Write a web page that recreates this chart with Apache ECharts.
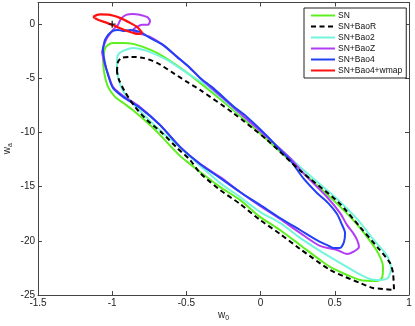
<!DOCTYPE html>
<html><head><meta charset="utf-8">
<script src="https://cdn.jsdelivr.net/npm/echarts@6/dist/echarts.min.js"></script>
<style>html,body{margin:0;padding:0;background:#fff}#c{width:415px;height:326px}</style>
</head><body><div id="c"></div>
<script>
const seriesNames = ['SN','SN+BaoR','SN+Bao2','SN+BaoZ','SN+Bao4','SN+Bao4+wmap'];
const xTickValues = [-1.5,-1,-0.5,0,0.5,1];
const yTickValues = [-25,-20,-15,-10,-5,0];
const fiducialPoint = [[-1, 0]];

const snContour = [[-1.062,-3.11],[-1.049,-2.28],[-1.028,-1.91],[-0.995,-1.73],[-0.927,-1.73],[-0.860,-1.82],[-0.792,-2.10],[-0.698,-2.65],[-0.590,-3.57],[-0.476,-4.68],[-0.408,-5.42],[-0.186,-7.91],[0.043,-10.68],[0.266,-13.45],[0.488,-16.22],[0.623,-18.07],[0.717,-19.64],[0.791,-21.11],[0.825,-22.41],[0.818,-23.42],[0.784,-23.70],[0.670,-23.61],[0.582,-23.15],[0.468,-22.41],[0.400,-21.76],[0.266,-20.38],[0.131,-19.00],[-0.004,-17.79],[-0.139,-16.22],[-0.274,-15.02],[-0.408,-13.64],[-0.476,-12.90],[-0.543,-12.16],[-0.678,-10.22],[-0.745,-9.30],[-0.846,-8.10],[-0.927,-7.26],[-0.981,-6.71],[-1.028,-5.79],[-1.055,-4.40],[-1.062,-3.11]];

const snBaoRContour = [[-0.968,-4.40],[-0.961,-3.48],[-0.934,-3.11],[-0.880,-3.02],[-0.792,-3.11],[-0.698,-3.57],[-0.590,-4.50],[-0.496,-5.33],[-0.408,-6.07],[-0.186,-8.19],[0.043,-10.68],[0.266,-13.50],[0.522,-16.41],[0.670,-18.72],[0.791,-20.65],[0.872,-22.04],[0.892,-22.96],[0.899,-24.53],[0.825,-24.44],[0.757,-24.35],[0.670,-23.89],[0.569,-23.33],[0.468,-22.69],[0.266,-20.75],[0.131,-19.36],[-0.004,-18.07],[-0.139,-16.59],[-0.274,-15.30],[-0.408,-13.73],[-0.476,-12.53],[-0.563,-11.42],[-0.664,-10.04],[-0.766,-8.84],[-0.846,-7.64],[-0.914,-6.25],[-0.954,-5.14],[-0.968,-4.40]];

const snBao2Contour = [[-0.968,-3.48],[-0.961,-2.83],[-0.927,-2.47],[-0.860,-2.19],[-0.766,-2.47],[-0.631,-3.30],[-0.496,-4.50],[-0.361,-5.70],[-0.186,-7.73],[0.043,-10.41],[0.266,-13.18],[0.515,-16.13],[0.650,-17.98],[0.757,-19.82],[0.852,-21.39],[0.879,-22.50],[0.858,-23.42],[0.805,-23.61],[0.737,-23.52],[0.650,-22.96],[0.535,-22.04],[0.400,-20.93],[0.266,-19.73],[0.131,-18.35],[-0.004,-17.33],[-0.139,-15.95],[-0.274,-14.66],[-0.375,-13.45],[-0.476,-12.25],[-0.577,-10.96],[-0.658,-10.04],[-0.766,-8.65],[-0.860,-7.36],[-0.927,-6.16],[-0.961,-4.87],[-0.968,-3.48]];

const snBaoZContour = [[-1.069,-2.56],[-1.055,-1.91],[-1.035,-1.27],[-1.015,-0.90],[-0.995,-0.53],[-0.961,-0.06],[-0.941,0.49],[-0.907,0.86],[-0.860,0.95],[-0.813,0.86],[-0.766,0.67],[-0.745,0.30],[-0.759,-0.06],[-0.799,-0.06],[-0.833,-0.25],[-0.860,-0.53],[-0.833,-0.80],[-0.745,-1.17],[-0.658,-1.91],[-0.563,-3.02],[-0.476,-4.04],[-0.408,-4.96],[-0.186,-7.64],[0.043,-10.41],[0.198,-12.35],[0.286,-13.73],[0.447,-15.95],[0.535,-17.42],[0.582,-18.53],[0.623,-19.27],[0.650,-19.92],[0.663,-20.56],[0.623,-21.02],[0.582,-21.21],[0.515,-20.84],[0.400,-20.47],[0.266,-19.27],[0.131,-17.98],[-0.004,-16.78],[-0.139,-15.49],[-0.274,-14.10],[-0.408,-12.90],[-0.543,-11.33],[-0.678,-9.30],[-0.813,-7.64],[-0.927,-6.62],[-0.995,-5.79],[-1.028,-4.59],[-1.055,-3.48],[-1.069,-2.56]];

const snBao4Contour = [[-1.049,-1.45],[-1.028,-0.99],[-0.995,-0.62],[-0.961,-0.53],[-0.927,-0.62],[-0.880,-0.53],[-0.813,-0.71],[-0.745,-1.27],[-0.658,-1.91],[-0.563,-3.02],[-0.476,-4.04],[-0.408,-4.96],[-0.321,-5.88],[-0.186,-7.55],[-0.092,-8.56],[0.043,-10.31],[0.131,-11.61],[0.198,-12.53],[0.286,-14.19],[0.380,-15.58],[0.454,-16.50],[0.515,-17.52],[0.549,-18.53],[0.569,-19.27],[0.562,-20.10],[0.535,-20.65],[0.488,-20.65],[0.447,-20.38],[0.400,-20.10],[0.266,-19.00],[0.131,-17.89],[-0.004,-16.68],[-0.139,-15.49],[-0.274,-14.19],[-0.408,-12.90],[-0.543,-11.33],[-0.678,-9.30],[-0.813,-7.73],[-0.927,-6.71],[-0.995,-5.88],[-1.028,-4.68],[-1.049,-3.57],[-1.062,-2.37],[-1.049,-1.45]];

const snBao4WmapContour = [[-1.129,0.67],[-1.102,0.86],[-1.082,0.90],[-1.015,0.86],[-0.947,0.58],[-0.880,0.12],[-0.833,-0.25],[-0.813,-0.53],[-0.799,-0.80],[-0.826,-0.90],[-0.900,-0.62],[-0.968,-0.25],[-1.035,0.12],[-1.096,0.40],[-1.129,0.67]];

const chart = echarts.init(document.getElementById('c'), null, {renderer:'canvas'});
const axisColor = '#444';
const labelColor = '#222';
const font = 'Liberation Sans, Arial, sans-serif';

function contour(name, data, color, width, dashed) {
  return {
    name: name, type: 'line', data: data, symbol: 'none', showSymbol: false, smooth: 0.25,
    xAxisIndex: 0, yAxisIndex: 0,
    lineStyle: {color: color, width: width, type: dashed ? [5, 3.5] : 'solid'},
    itemStyle: {color: color}, silent: true
  };
}

function boxAxis(extra) {
  return Object.assign({
    type: 'value',
    axisLine: {show: true, onZero: false, lineStyle: {color: axisColor, width: 1}},
    axisTick: {show: true, inside: true, length: 4, lineStyle: {color: axisColor}},
    splitLine: {show: false}
  }, extra);
}

const richName = {
  a: {fontSize: 10, fontFamily: font, color: labelColor},
  b: {fontSize: 7, fontFamily: font, color: labelColor, padding: [6, 0, 0, 0]}
};

chart.setOption({
  animation: false,
  backgroundColor: '#fff',
  grid: {left: 38, right: 6, top: 2.5, bottom: 31, containLabel: false, outerBoundsMode: 'none'},
  xAxis: [boxAxis({
    min: -1.5, max: 1, interval: 0.5, position: 'bottom',
    axisLabel: {color: labelColor, fontSize: 10, fontFamily: font, margin: 3,
      formatter: v => (xTickValues.indexOf(v) >= 0 ? String(v) : '')},
    name: '{a|w}{b|0}', nameLocation: 'middle', nameGap: 14, nameMoveOverlap: false,
    nameTextStyle: {color: labelColor, fontFamily: font, rich: richName}
  }), boxAxis({
    min: -1.5, max: 1, interval: 0.5, position: 'top', axisLabel: {show: false}
  })],
  yAxis: [boxAxis({
    min: -25, max: 2, interval: 5, position: 'left',
    axisLabel: {color: labelColor, fontSize: 10, fontFamily: font, margin: 3,
      formatter: v => (yTickValues.indexOf(v) >= 0 ? String(v) : '')},
    name: '{a|w}{b|a}', nameLocation: 'middle', nameGap: 24, nameRotate: 90, nameMoveOverlap: false,
    nameTextStyle: {color: labelColor, fontFamily: font, rich: richName}
  }), boxAxis({
    min: -25, max: 2, interval: 5, position: 'right', axisLabel: {show: false}
  })],
  legend: {
    data: seriesNames, orient: 'vertical', left: 304, top: 8,
    itemWidth: 24, itemHeight: 8, itemGap: 2,
    padding: [3, 4, 3, 6],
    backgroundColor: '#fff', borderColor: '#222', borderWidth: 1,
    itemStyle: {opacity: 0},
    textStyle: {fontSize: 8.5, fontFamily: font, color: '#111', padding: [0, 0, 0, -2]},
    selectedMode: false
  },
  series: [
    contour(seriesNames[0], snContour, '#5ef01e', 2, false),
    contour(seriesNames[2], snBao2Contour, '#72f5dc', 2, false),
    contour(seriesNames[3], snBaoZContour, '#b23cf5', 2, false),
    contour(seriesNames[4], snBao4Contour, '#2240f5', 2, false),
    contour(seriesNames[1], snBaoRContour, '#000000', 2, true),
    contour(seriesNames[5], snBao4WmapContour, '#ff1010', 2.2, false),
    {
      name: 'fiducial', type: 'scatter', data: fiducialPoint, xAxisIndex: 0, yAxisIndex: 0,
      symbol: 'path://M4,0H6V4H10V6H6V10H4V6H0V4H4Z', symbolSize: 7,
      itemStyle: {color: '#000'}, silent: true, z: 5
    }
  ]
});
</script></body></html>
